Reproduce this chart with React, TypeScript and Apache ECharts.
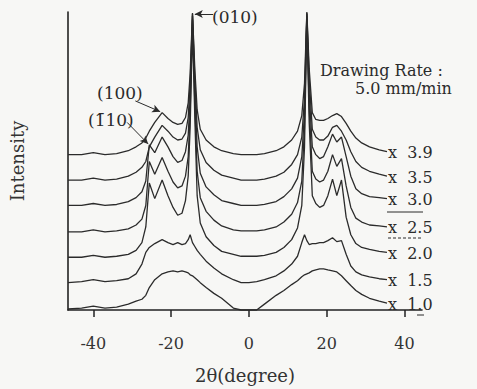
import React, { useEffect, useRef } from 'react';
import * as echarts from 'echarts';

// 2θ sample positions (degree)
const THETA = [-46.5, -43, -40, -37, -34, -31, -29, -27.5, -26.5, -25.6, -24.2, -22.3, -20.8, -19.5, -18.3, -17.2, -16.3, -15.6, -15.1, -14.5, -13.9, -13.3, -12.5, -11, -9, -7, -4, -2, 0, 2, 4, 7, 9, 11, 12.5, 13.6, 14.3, 14.9, 15.5, 16.3, 17.2, 18.2, 19.2, 20.3, 21.5, 22.6, 23.8, 25, 26.2, 27.5, 29, 31, 33.5, 35.5];

// stacked intensity profiles (arbitrary units, offsets included as drawn)
const R39 = [159, 159, 161, 159, 160, 163, 167, 171, 176, 183, 192, 202, 196, 192, 190, 191, 197, 212, 242, 304, 247, 205, 185, 174, 167, 163, 160, 159, 159, 159, 160, 163, 167, 174, 183, 199, 232, 305, 247, 202, 195, 194, 194, 196, 199, 201, 198, 191, 183, 176, 171, 167, 164, 162];
const R35 = [133, 133, 135, 133, 134, 137, 141, 146, 152, 167, 177, 189, 183, 177, 174, 175, 181, 197, 232, 303, 237, 187, 164, 151, 143, 138, 135, 133, 133, 133, 134, 137, 141, 149, 159, 177, 217, 304, 237, 185, 177, 174, 174, 178, 187, 189, 183, 174, 162, 152, 146, 142, 139, 137];
const R30 = [107, 107, 109, 107, 108, 111, 115, 121, 132, 169, 161, 177, 167, 157, 151, 153, 162, 179, 217, 301, 227, 167, 140, 126, 118, 112, 109, 107, 107, 107, 108, 111, 116, 124, 135, 157, 202, 303, 222, 167, 159, 155, 157, 167, 180, 172, 177, 157, 137, 124, 119, 116, 115, 114];
const R25 = [80, 80, 82, 80, 81, 83, 87, 93, 107, 152, 139, 156, 142, 131, 125, 127, 137, 157, 202, 297, 212, 142, 115, 101, 92, 86, 82, 81, 81, 81, 82, 85, 90, 98, 110, 132, 187, 301, 207, 142, 134, 131, 133, 142, 159, 147, 155, 127, 105, 94, 90, 87, 86, 85];
const R20 = [54, 54, 56, 54, 55, 57, 61, 69, 85, 130, 114, 133, 117, 105, 97, 99, 112, 137, 187, 289, 197, 117, 89, 75, 66, 60, 57, 55, 55, 55, 56, 59, 64, 72, 84, 107, 167, 297, 192, 117, 109, 105, 107, 117, 134, 117, 133, 95, 77, 68, 64, 62, 60, 59];
const R15 = [28, 29, 31, 29, 30, 32, 37, 47, 59, 64, 68, 72, 69, 67, 69, 67, 68, 72, 77, 69, 65, 61, 57, 50, 43, 37, 31, 28, 28, 29, 31, 35, 40, 47, 55, 69, 77, 71, 67, 68, 68, 69, 69, 71, 74, 70, 71, 57, 45, 39, 36, 34, 32, 31];
const R10 = [1, 2, 4, 2, 3, 6, 9, 11, 15, 23, 31, 37, 39, 40, 39, 40, 39, 38, 36, 35, 33, 31, 28, 23, 17, 12, 2, 0, 0, 0, 6, 15, 20, 26, 30, 34, 36, 37, 38, 40, 41, 42, 42, 41, 40, 39, 35, 30, 25, 20, 16, 12, 9, 7];

const RATES = ['3.9', '3.5', '3.0', '2.5', '2.0', '1.5', '1.0'];
const PROFILES = [R39, R35, R30, R25, R20, R15, R10];
const X_TICKS = [-40, -20, 0, 20, 40];

// annotation arrows: [from, to] in (2θ, intensity)
const ARROW_100 = [[-29.2, 214], [-22.8, 203]];
const ARROW_110 = [[-31.3, 192], [-25.9, 170]];
const ARROW_010 = [[-9.2, 303], [-13.9, 303]];

export default function App() {
  const ref = useRef<HTMLDivElement>(null);
  useEffect(() => {
    const chart = echarts.init(ref.current!, null, { renderer: 'svg' });
    const font = "'DejaVu Serif', serif";
    const ink = '#2b2b2b';
    const series: any[] = PROFILES.map((vals, i) => ({
      type: 'line',
      name: 'x ' + RATES[i],
      data: THETA.map((t, j) => [t, vals[j]]),
      showSymbol: false,
      symbol: 'none',
      clip: false,
      lineStyle: { color: ink, width: 1.3 },
      endLabel: {
        show: true,
        formatter: 'x  ' + RATES[i],
        color: ink,
        fontFamily: font,
        fontSize: 16,
        distance: 1,
        offset: [0, 1],
      },
      markLine:
        i === 0
          ? {
              silent: true,
              symbol: ['none', 'arrow'],
              symbolSize: [6, 8],
              lineStyle: { color: ink, width: 1, type: 'solid' },
              label: { show: false },
              data: [ARROW_100, ARROW_110, ARROW_010].map((a) => [
                { coord: a[0] },
                { coord: a[1] },
              ]),
            }
          : undefined,
    }));
    chart.setOption({
      animation: false,
      backgroundColor: '#f7f7f5',
      grid: { left: 67, right: 55, top: 12, bottom: 72 },
      xAxis: {
        type: 'value',
        min: -46.5,
        max: 44.5,
        axisLine: { show: true, onZero: false, lineStyle: { color: '#222', width: 1.6 } },
        axisTick: { show: true, customValues: X_TICKS, length: 7, inside: false, lineStyle: { color: '#222', width: 1.5 } },
        axisLabel: { customValues: X_TICKS, margin: 25, fontFamily: font, fontSize: 16, color: '#333' },
        splitLine: { show: false },
        name: '2θ(degree)',
        nameLocation: 'middle',
        nameGap: 56,
        nameTextStyle: { fontFamily: font, fontSize: 18, color: '#333' },
      },
      yAxis: {
        type: 'value',
        min: 0,
        max: 305,
        axisLine: { show: true, onZero: false, lineStyle: { color: '#222', width: 1.6 } },
        axisTick: { show: false },
        axisLabel: { show: false },
        splitLine: { show: false },
        name: 'Intensity',
        nameLocation: 'middle',
        nameRotate: 90,
        nameGap: 42,
        nameTextStyle: { fontFamily: font, fontSize: 18, color: '#333' },
      },
      graphic: [
        { type: 'text', left: 97, top: 84, style: { text: '(100)', font: '17px ' + font, fill: ink } },
        { type: 'text', left: 88, top: 111, style: { text: '(1\u030410)', font: '17px ' + font, fill: ink } },
        { type: 'text', left: 212, top: 8, style: { text: '(010)', font: '17px ' + font, fill: ink } },
        { type: 'text', left: 320, top: 62, style: { text: 'Drawing Rate :', font: '16px ' + font, fill: ink } },
        { type: 'text', left: 355, top: 80, style: { text: '5.0 mm/min', font: '16px ' + font, fill: ink } },
        { type: 'line', shape: { x1: 387, y1: 212, x2: 423, y2: 212 }, style: { stroke: ink, lineWidth: 1 } },
        { type: 'line', shape: { x1: 388, y1: 238, x2: 423, y2: 238 }, style: { stroke: ink, lineWidth: 1, lineDash: [3, 2] } },
        { type: 'line', shape: { x1: 417, y1: 315, x2: 424, y2: 315 }, style: { stroke: ink, lineWidth: 1 } },
      ],
      series,
    });
    return () => chart.dispose();
  }, []);
  return <div ref={ref} style={{ position: 'fixed', left: 0, top: 0, width: 477, height: 389 }} />;
}
